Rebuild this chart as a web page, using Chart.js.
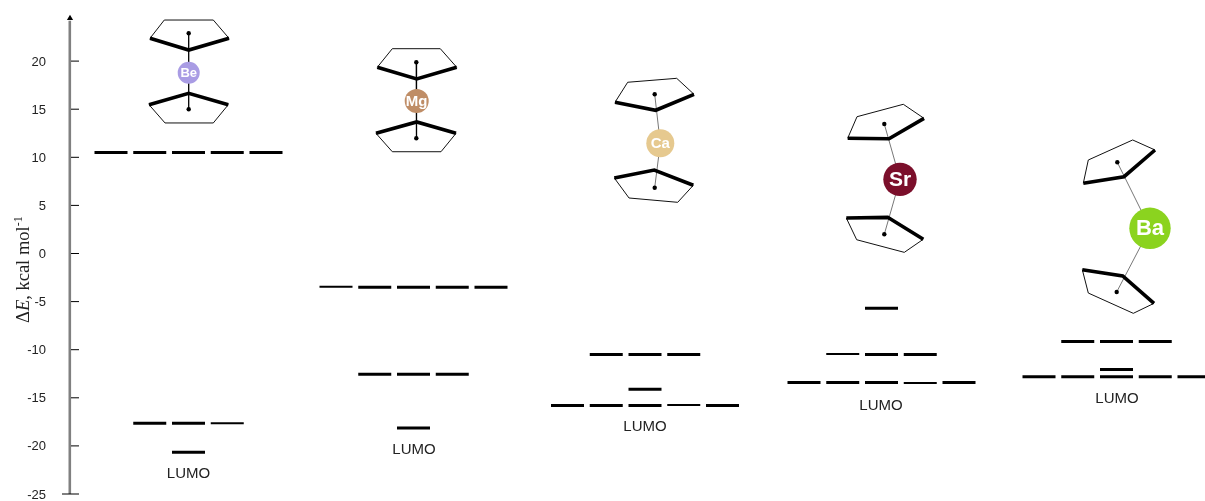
<!DOCTYPE html>
<html>
<head>
<meta charset="utf-8">
<title>Metallocene energy levels</title>
<script src="https://cdn.jsdelivr.net/npm/chart.js@4"></script>
<style>
html, body { margin: 0; padding: 0; background: #fff; }
canvas { display: block; }
</style>
</head>
<body>
<canvas id="chart" width="1205" height="501"></canvas>
<script>
const yTicks = [20, 15, 10, 5, 0, -5, -10, -15, -20, -25];
const metals = ['Be', 'Mg', 'Ca', 'Sr', 'Ba'];
const groupCentres = [188.5, 413.5, 645, 881.5, 1116.5];

// energy levels of each complex (kcal/mol) and the column each one sits in
const beEnergies = [10.5, 10.5, 10.5, 10.5, 10.5, -17.65, -17.65, -17.65, -20.65];
const beSlots = [-2, -1, 0, 1, 2, -1, 0, 1, 0];
const mgEnergies = [-3.45, -3.5, -3.5, -3.5, -3.5, -12.55, -12.55, -12.55, -18.15];
const mgSlots = [-2, -1, 0, 1, 2, -1, 0, 1, 0];
const caEnergies = [-10.5, -10.5, -10.5, -14.1, -15.8, -15.8, -15.8, -15.75, -15.8];
const caSlots = [-1, 0, 1, 0, -2, -1, 0, 1, 2];
const srEnergies = [-5.7, -10.45, -10.5, -10.5, -13.4, -13.4, -13.4, -13.45, -13.4];
const srSlots = [0, -1, 0, 1, -2, -1, 0, 1, 2];
const baEnergies = [-9.15, -9.15, -9.15, -12.05, -12.8, -12.8, -12.8, -12.8, -12.8];
const baSlots = [-1, 0, 1, 0, -2, -1, 0, 1, 2];
const levelEnergies = [beEnergies, mgEnergies, caEnergies, srEnergies, baEnergies];
const levelSlots = [beSlots, mgSlots, caSlots, srSlots, baSlots];
// levels printed with a thinner line in the picture: [complex, level]
const thinLevels = ['0-7', '1-0', '2-7', '3-1', '3-7'];

const lumoX = [188.5, 414, 645, 881, 1117];
const lumoY = [-22.92, -20.42, -18.03, -15.85, -15.12];

// the sketched molecules: first three points are the front edge of a ring
const metalX = [188.7, 416.7, 660.3, 900, 1150];
const metalY = [18.79, 15.85, 11.46, 7.71, 2.62];
const topDotX = [188.7, 416.3, 654.7, 884.3, 1117.3];
const topDotY = [22.89, 19.88, 16.55, 13.46, 9.48];
const bottomDotX = [188.7, 416.3, 654.7, 884.3, 1116.7];
const bottomDotY = [14.99, 11.98, 6.84, 2.0, -4.0];
const ringX = [
  [150, 188.7, 229, 213.3, 164.3], [149, 188.7, 228.3, 213.3, 165],
  [377.3, 416.7, 456.7, 440.3, 392.3], [376, 416.7, 456, 441, 392.3],
  [615, 655.7, 694, 676.7, 627.7], [614.3, 654.3, 693.3, 677.7, 629],
  [847.7, 889, 924, 903.3, 857], [846.3, 887.7, 923.3, 904.3, 856.7],
  [1083.3, 1124, 1155, 1132.7, 1088.3], [1082.3, 1122.7, 1154, 1133.3, 1088.3]
];
const ringY = [
  [22.37, 21.15, 22.37, 24.27, 24.27], [15.47, 16.65, 15.47, 13.57, 13.57],
  [19.36, 18.14, 19.36, 21.29, 21.29], [12.49, 13.67, 12.49, 10.58, 10.58],
  [15.72, 14.89, 16.55, 18.21, 17.8], [7.85, 8.68, 7.09, 5.32, 5.77],
  [11.98, 11.93, 14.05, 15.51, 14.22], [3.69, 3.76, 1.48, 0.12, 1.43],
  [7.3, 7.98, 10.76, 11.8, 9.72], [-1.68, -2.34, -5.18, -6.22, -4.11]
];

const metalColors = ['#a99ce4', '#bf8d66', '#e6c98f', '#7b0f2b', '#8bd31f'];
const metalRadius = [11, 12, 14, 16.7, 20.7];
const metalFont = [13, 15, 15, 21, 22];
const slotWidth = 38.75;
const dashHalf = 16.5;

function lineSet(points, width, color) {
  return {
    data: points,
    showLine: true,
    borderColor: color,
    borderWidth: width,
    borderJoinStyle: 'miter',
    pointRadius: 0,
    clip: false
  };
}

function buildDatasets() {
  const sets = [];

  // metal atoms go first so they are painted over the bonds
  sets.push({
    data: metalX.map((x, i) => ({ x: x, y: metalY[i] })),
    backgroundColor: metalColors,
    pointRadius: metalRadius,
    borderWidth: 0,
    clip: false
  });
  sets.push({
    data: metalX.map((x, i) => ({ x: topDotX[i], y: topDotY[i] }))
      .concat(metalX.map((x, i) => ({ x: bottomDotX[i], y: bottomDotY[i] }))),
    backgroundColor: '#000',
    pointRadius: 2.2,
    borderWidth: 0,
    clip: false
  });

  ringX.forEach((xs, r) => {
    const pts = xs.map((x, i) => ({ x: x, y: ringY[r][i] }));
    sets.push(lineSet(pts.slice(0, 3), 3.6, '#000'));
    sets.push(lineSet([pts[2], pts[3], pts[4], pts[0]], 1, '#111'));
  });

  metals.forEach((m, i) => {
    const bond = [
      { x: topDotX[i], y: topDotY[i] },
      { x: metalX[i], y: metalY[i] },
      { x: bottomDotX[i], y: bottomDotY[i] }
    ];
    sets.push(lineSet(bond, i < 2 ? 1.3 : 1, i < 2 ? '#000' : '#777'));
  });

  levelEnergies.forEach((energies, g) => {
    energies.forEach((e, i) => {
      const mid = groupCentres[g] + levelSlots[g][i] * slotWidth;
      const thin = thinLevels.includes(g + '-' + i);
      sets.push(lineSet([{ x: mid - dashHalf, y: e }, { x: mid + dashHalf, y: e }], thin ? 2 : 3, '#000'));
    });
  });

  yTicks.forEach(v => {
    const start = v === -25 ? 62 : 71;
    sets.push(lineSet([{ x: start, y: v }, { x: 79, y: v }], 1, '#000'));
  });

  // arrow head, then the axis line stopping right under it
  sets.push({
    data: [{ x: 70, y: 24.45 }],
    pointStyle: 'triangle',
    pointRadius: 3.6,
    backgroundColor: '#000',
    borderWidth: 0,
    clip: false
  });
  sets.push(lineSet([{ x: 69.8, y: -25 }, { x: 69.8, y: 24.2 }], 2.6, '#808080'));
  return sets;
}

// Texts that sit among the marks: LUMO labels, metal symbols, axis title
const textPlugin = {
  id: 'texts',
  afterDraw(chart) {
    const { ctx, scales } = chart;
    ctx.save();
    ctx.textAlign = 'center';
    ctx.textBaseline = 'middle';

    ctx.fillStyle = '#222';
    ctx.font = '15px "Liberation Sans"';
    lumoX.forEach((x, i) => {
      ctx.fillText('LUMO', scales.x.getPixelForValue(x), scales.y.getPixelForValue(lumoY[i]));
    });

    ctx.fillStyle = '#fff';
    metals.forEach((m, i) => {
      ctx.font = 'bold ' + metalFont[i] + 'px "Liberation Sans"';
      ctx.fillText(m, scales.x.getPixelForValue(metalX[i]), scales.y.getPixelForValue(metalY[i]) + 1);
    });

    // Delta E, kcal mol-1 with italic E and a raised -1
    ctx.translate(29, 323);
    ctx.rotate(-Math.PI / 2);
    ctx.textAlign = 'left';
    ctx.textBaseline = 'alphabetic';
    ctx.fillStyle = '#222';
    let pos = 0;
    [['Δ', '18.5px', 0], ['E', 'italic 18.5px', 0], [', kcal mol', '18.5px', 0], ['-1', '12px', -7]].forEach(p => {
      ctx.font = p[1] + ' "Liberation Serif"';
      ctx.fillText(p[0], pos, p[2]);
      pos += ctx.measureText(p[0]).width;
    });
    ctx.restore();
  }
};

new Chart(document.getElementById('chart').getContext('2d'), {
  type: 'scatter',
  data: { datasets: buildDatasets() },
  options: {
    responsive: false,
    animation: false,
    events: [],
    layout: { autoPadding: false, padding: { top: 13, bottom: 7, left: 0, right: 0 } },
    plugins: {
      legend: { display: false },
      tooltip: { enabled: false }
    },
    scales: {
      x: { type: 'linear', display: false, min: 70, max: 1205 },
      y: {
        type: 'linear',
        min: -25,
        max: 25,
        afterFit(scale) {
          // the label padding must not push the plot area in
          scale.width = 70;
          scale.paddingTop = 0;
          scale.paddingBottom = 0;
        },
        grid: { display: false },
        border: { display: false },
        ticks: {
          stepSize: 5,
          padding: 16,
          labelOffset: 1,
          color: '#222',
          font: { family: '"Liberation Sans"', size: 13 },
          callback: v => (yTicks.includes(v) ? String(v) : '')
        }
      }
    }
  },
  plugins: [textPlugin]
});
</script>
</body>
</html>
